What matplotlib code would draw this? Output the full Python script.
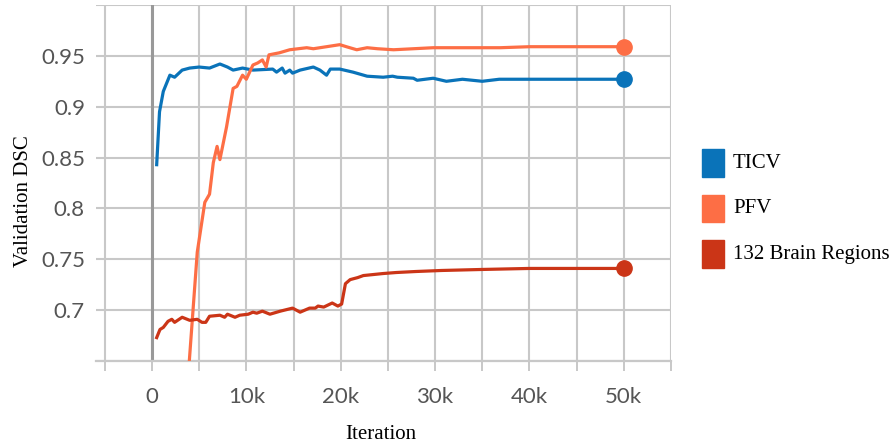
import matplotlib
matplotlib.use("Agg")
from matplotlib import pyplot as plt
from matplotlib.patches import Rectangle
from matplotlib.ticker import FuncFormatter, MultipleLocator

# Validation DSC per iteration
ticv_iter = [500, 800, 1200, 1900, 2400, 3200, 4000, 5000, 6100, 7200, 8000, 8600, 9600,
             10700, 12800, 13200, 13800, 14100, 14600, 14900, 15700, 17100, 17800, 18500,
             18900, 19900, 21300, 22800, 24500, 25500, 26000, 27700, 28100, 29800, 31200,
             32900, 35000, 36800, 40300, 43900, 50000]
ticv_dsc = [0.843, 0.895, 0.915, 0.931, 0.929, 0.936, 0.938, 0.939, 0.938, 0.942, 0.939, 0.936, 0.938,
            0.936, 0.937, 0.934, 0.938, 0.933, 0.936, 0.933, 0.936, 0.939, 0.936, 0.931,
            0.937, 0.937, 0.934, 0.930, 0.929, 0.930, 0.929, 0.928, 0.926, 0.928, 0.925,
            0.927, 0.925, 0.927, 0.927, 0.927, 0.927]

pfv_iter = [3800, 4800, 5600, 6100, 6500, 6900, 7200, 7900, 8600, 9000, 9600, 10000, 10700,
            11200, 11700, 12100, 12400, 13500, 14600, 16400, 17100, 18500, 19900, 20600,
            21700, 22800, 23900, 25600, 29800, 33400, 36900, 40000, 50000]
pfv_dsc = [0.630, 0.757, 0.806, 0.814, 0.845, 0.861, 0.848, 0.880, 0.918, 0.920, 0.931, 0.927, 0.941,
           0.943, 0.946, 0.939, 0.951, 0.953, 0.956, 0.958, 0.957, 0.959, 0.961, 0.959,
           0.956, 0.958, 0.957, 0.956, 0.958, 0.958, 0.958, 0.959, 0.959]

brain_iter = [500, 850, 1200, 1700, 2100, 2400, 3200, 4000, 4800, 5300, 5700, 6100, 7200, 7700,
              8000, 8800, 9300, 10200, 10700, 11100, 11700, 12500, 13600, 14900, 15700, 16700,
              17300, 17600, 18200, 19100, 19700, 20100, 20500, 21000, 21800, 22400, 24500,
              25900, 28000, 30700, 35000, 40000, 50000]
brain_dsc = [0.673, 0.681, 0.683, 0.689, 0.691, 0.688, 0.693, 0.690, 0.691, 0.688, 0.688, 0.694, 0.695, 0.693,
             0.696, 0.693, 0.695, 0.696, 0.698, 0.697, 0.699, 0.696, 0.699, 0.702, 0.698, 0.702,
             0.702, 0.704, 0.703, 0.707, 0.704, 0.706, 0.726, 0.730, 0.732, 0.734, 0.736,
             0.737, 0.738, 0.739, 0.740, 0.741, 0.741]

series = [
    ("TICV", ticv_iter, ticv_dsc, "#0a73b9"),
    ("PFV", pfv_iter, pfv_dsc, "#fd6e45"),
    ("132 Brain Regions", brain_iter, brain_dsc, "#cb3517"),
]

fig = plt.figure(figsize=(8.93, 4.43), dpi=100)
ax = fig.add_axes([96 / 893, 1 - 361 / 443, 575 / 893, 356 / 443])

grid_c = "#c8c8c8"
for name, xs, ys, c in series:
    ax.plot(xs, ys, color=c, linewidth=2.3, solid_joinstyle="round", zorder=3)
    ax.plot(xs[-1], ys[-1], "o", color=c, markersize=11, zorder=4)

ax.axvline(0, color="#999999", linewidth=2.2, zorder=2)

ax.set_xlim(-5930, 55000)
ax.set_ylim(0.65, 1.0)

ax.xaxis.set_major_locator(MultipleLocator(5000))
ax.xaxis.set_major_formatter(FuncFormatter(
    lambda v, p: "" if int(round(v)) % 10000 else ("0" if abs(v) < 1 else "%dk" % round(v / 1000))))
ax.yaxis.set_major_locator(MultipleLocator(0.05))
ax.yaxis.set_major_formatter(FuncFormatter(
    lambda v, p: "%g" % round(v, 2) if 0.69 < v < 0.96 else ""))

ax.grid(True, color=grid_c, linewidth=1.5, zorder=0)
for s in ["top", "right", "left"]:
    ax.spines[s].set_visible(False)
ax.spines["bottom"].set_color(grid_c)
ax.spines["bottom"].set_linewidth(1.6)

ax.tick_params(axis="x", length=7.5, width=1.4, color=grid_c, pad=11,
               labelsize=16, labelcolor="#555555")
ax.tick_params(axis="y", length=0, pad=8, labelsize=16, labelcolor="#555555")
for lab in ax.get_xticklabels() + ax.get_yticklabels():
    lab.set_fontfamily("Lato")

ax.set_xlabel("Iteration", family="Liberation Serif", fontsize=15)
ax.set_ylabel("Validation DSC", family="Liberation Serif", fontsize=15)
ax.xaxis.set_label_coords(0.495, -0.18)
ax.yaxis.set_label_coords(-0.11, 0.45)

# legend on the right
for i, (name, xs, ys, c) in enumerate(series):
    yc = 1 - (163 + i * 45.5) / 443
    fig.add_artist(Rectangle((702 / 893, yc - 14 / 443), 22 / 893, 28 / 443,
                             transform=fig.transFigure, color=c))
    fig.text(733 / 893, yc, name, family="Liberation Serif", fontsize=15,
             va="center", ha="left")

fig.savefig("out.png", dpi=100)
